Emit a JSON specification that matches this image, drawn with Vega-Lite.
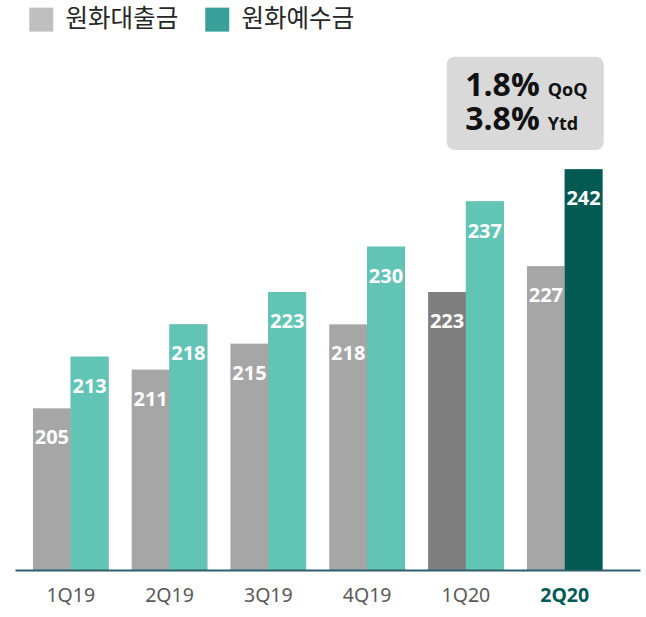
{
  "$schema": "https://vega.github.io/schema/vega-lite/v6.json",
  "width": 625,
  "height": 530,
  "autosize": "none",
  "padding": {"left": 15, "top": 40, "right": 6, "bottom": 47},
  "background": "white",
  "config": {"view": {"stroke": null}},
  "datasets": {
    "bars": [
      {"quarter": "1Q19", "series": "원화대출금", "value": 205},
      {"quarter": "1Q19", "series": "원화예수금", "value": 213},
      {"quarter": "2Q19", "series": "원화대출금", "value": 211},
      {"quarter": "2Q19", "series": "원화예수금", "value": 218},
      {"quarter": "3Q19", "series": "원화대출금", "value": 215},
      {"quarter": "3Q19", "series": "원화예수금", "value": 223},
      {"quarter": "4Q19", "series": "원화대출금", "value": 218},
      {"quarter": "4Q19", "series": "원화예수금", "value": 230},
      {"quarter": "1Q20", "series": "원화대출금", "value": 223},
      {"quarter": "1Q20", "series": "원화예수금", "value": 237},
      {"quarter": "2Q20", "series": "원화대출금", "value": 227},
      {"quarter": "2Q20", "series": "원화예수금", "value": 242}
    ],
    "box": [{"quarter": "2Q20", "low": 245, "high": 259.4}],
    "note": [
      {"quarter": "2Q20", "big": "1.8%", "small": "QoQ", "pos": 253.3},
      {"quarter": "2Q20", "big": "3.8%", "small": "Ytd", "pos": 248.1}
    ]
  },
  "encoding": {
    "x": {
      "field": "quarter",
      "type": "nominal",
      "sort": ["1Q19", "2Q19", "3Q19", "4Q19", "1Q20", "2Q20"],
      "scale": {"paddingInner": 0.236, "paddingOuter": 0.281, "align": 0.324},
      "axis": {
        "title": null,
        "ticks": false,
        "labelAngle": 0,
        "labelPadding": 16,
        "labelFont": "Noto Sans",
        "labelFontSize": 19.5,
        "labelColor": {"condition": {"test": "datum.value == '2Q20'", "value": "#005a55"}, "value": "#595959"},
        "labelFontWeight": {"condition": {"test": "datum.value == '2Q20'", "value": "bold"}, "value": "normal"},
        "domainColor": "#2c5f6a",
        "domainWidth": 2,
        "grid": false,
        "zindex": 1
      }
    }
  },
  "layer": [
    {
      "data": {"name": "bars"},
      "mark": {"type": "bar"},
      "encoding": {
        "xOffset": {"field": "series", "type": "nominal", "scale": {"paddingInner": 0, "paddingOuter": 0}},
        "y": {"field": "value", "type": "quantitative", "scale": {"domain": [180, 262], "zero": false, "nice": false}, "axis": null},
        "y2": {"datum": 180},
        "color": {
          "field": "series",
          "type": "nominal",
          "scale": {"domain": ["원화대출금", "원화예수금"], "range": ["#bfbfbf", "#3a9e99"]},
          "legend": {
            "title": null,
            "orient": "none",
            "direction": "horizontal",
            "legendX": 14,
            "legendY": -33,
            "padding": 0,
            "symbolType": "square",
            "symbolSize": 576,
            "symbolStrokeWidth": 0,
            "labelFont": "Noto Sans CJK KR",
            "labelFontSize": 24.5,
            "labelColor": "#262626",
            "labelOffset": 12,
            "columnPadding": 26
          }
        }
      }
    },
    {
      "data": {"name": "bars"},
      "mark": {"type": "bar"},
      "encoding": {
        "xOffset": {"field": "series", "type": "nominal"},
        "y": {"field": "value", "type": "quantitative"},
        "y2": {"datum": 180},
        "color": {
          "condition": [
            {"test": "datum.quarter == '1Q20' && datum.series == '원화대출금'", "value": "#7f7f7f"},
            {"test": "datum.quarter == '2Q20' && datum.series == '원화예수금'", "value": "#025a52"},
            {"test": "datum.series == '원화대출금'", "value": "#a6a6a6"}
          ],
          "value": "#62c4b5"
        }
      }
    },
    {
      "data": {"name": "bars"},
      "mark": {"type": "text", "baseline": "middle", "align": "center", "dy": 30, "color": "white", "fontWeight": "bold", "fontSize": 20, "font": "Open Sans"},
      "encoding": {
        "xOffset": {"field": "series", "type": "nominal"},
        "y": {"field": "value", "type": "quantitative"},
        "text": {"field": "value", "type": "quantitative"}
      }
    },
    {
      "data": {"name": "box"},
      "mark": {"type": "bar", "width": 157, "xOffset": -39.5, "cornerRadius": 8, "color": "#d9d9d9"},
      "encoding": {
        "y": {"field": "low", "type": "quantitative"},
        "y2": {"field": "high"}
      }
    },
    {
      "data": {"name": "note"},
      "mark": {"type": "text", "align": "right", "baseline": "alphabetic", "dx": -25, "fontSize": 32, "fontWeight": "bold", "font": "Open Sans", "color": "#111111"},
      "encoding": {
        "y": {"field": "pos", "type": "quantitative"},
        "text": {"field": "big"}
      }
    },
    {
      "data": {"name": "note"},
      "mark": {"type": "text", "align": "left", "baseline": "alphabetic", "dx": -17, "fontSize": 18, "fontWeight": "bold", "font": "Open Sans", "color": "#111111"},
      "encoding": {
        "y": {"field": "pos", "type": "quantitative"},
        "text": {"field": "small"}
      }
    }
  ]
}
